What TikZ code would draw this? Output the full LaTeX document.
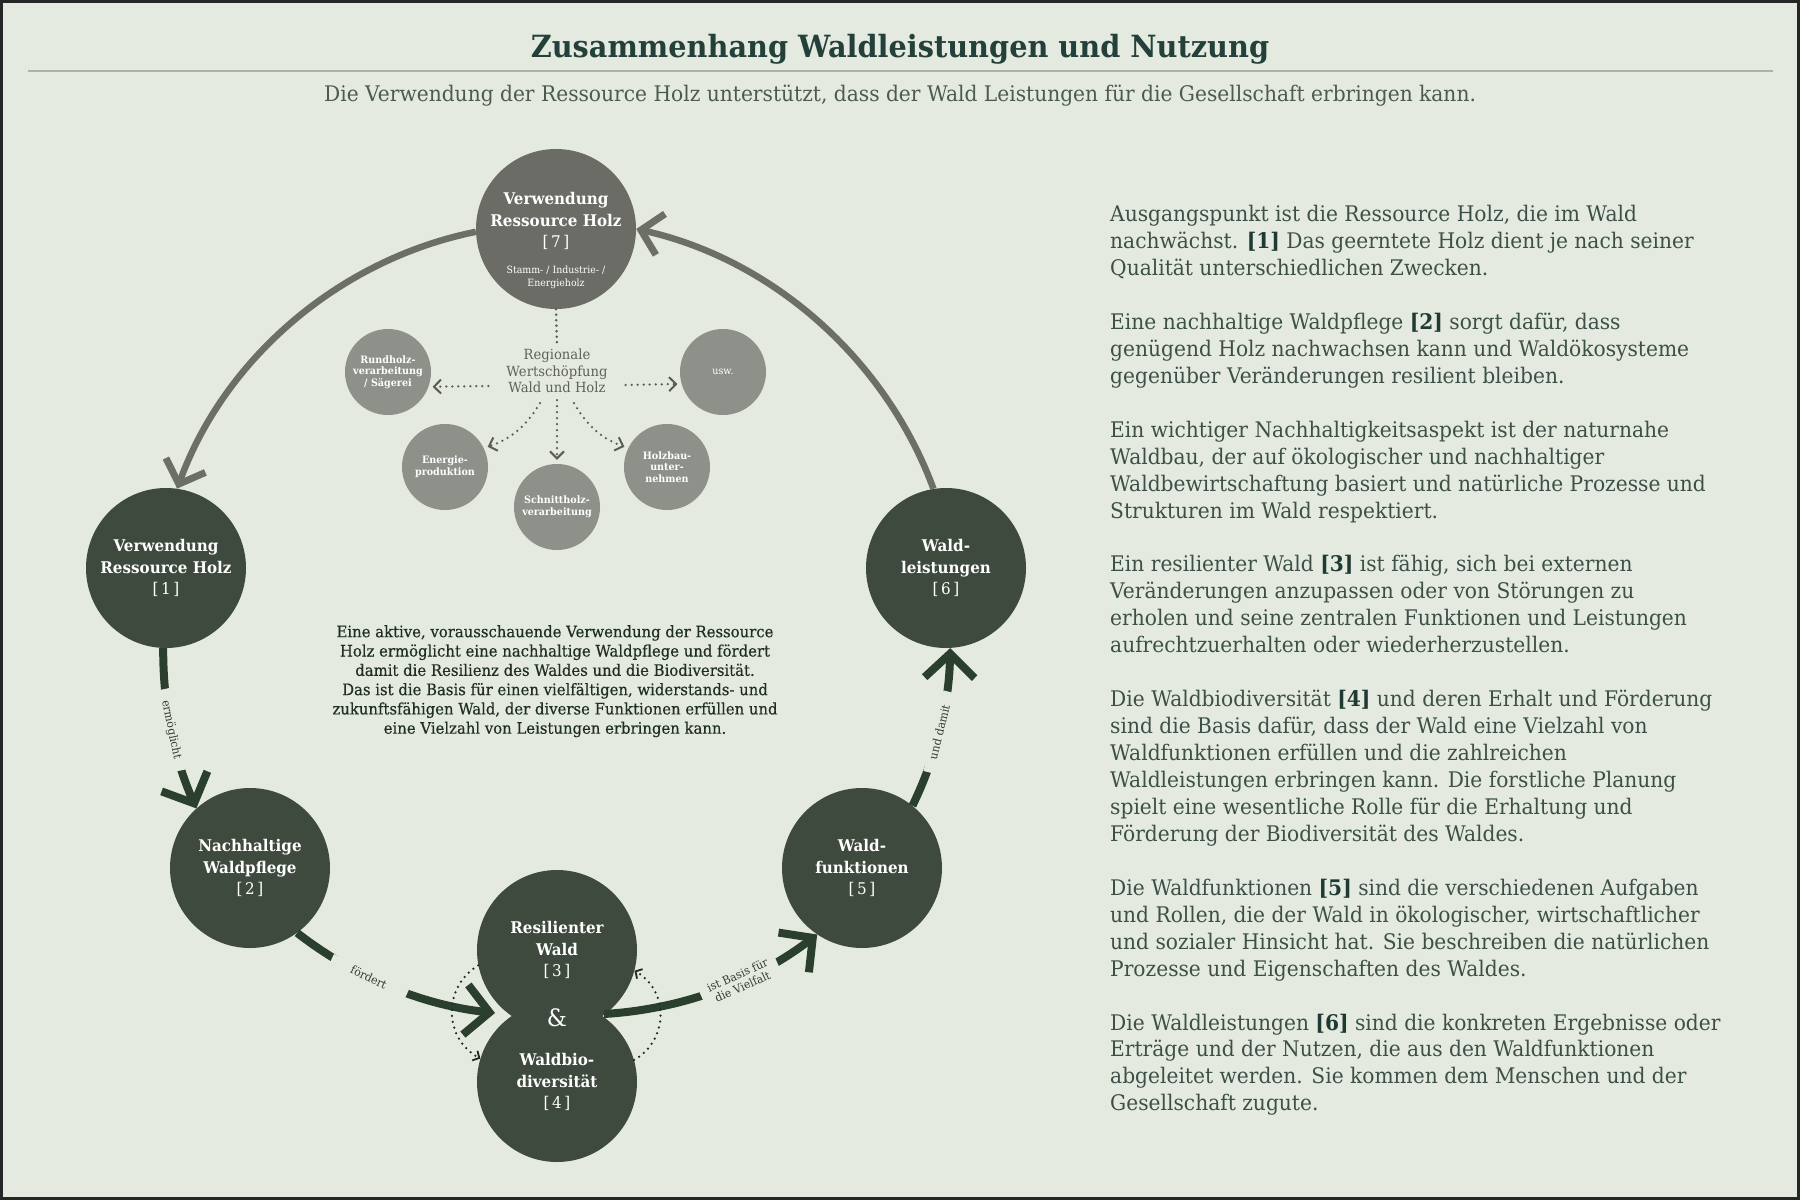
\documentclass[tikz,border=0pt]{standalone}
\usepackage{fontspec}
\setmainfont{DejaVu Serif}[FakeStretch=0.94]
\usetikzlibrary{arrows.meta}
\definecolor{bg}{HTML}{E4EAE0}
\definecolor{darkc}{HTML}{3F4A3E}
\definecolor{topgray}{HTML}{6A6C65}
\definecolor{smallgray}{HTML}{8E908A}
\definecolor{flowgreen}{HTML}{2B3F2F}
\definecolor{arcgray}{HTML}{6C6F68}
\definecolor{dotgray}{HTML}{5A5D56}
\definecolor{titlec}{HTML}{23403A}
\definecolor{bodyc}{HTML}{3D5047}
\definecolor{numc}{HTML}{1E3A32}
\definecolor{subc}{HTML}{4B5A52}
\definecolor{labelc}{HTML}{343A34}
\definecolor{parac}{HTML}{1E2E22}
\definecolor{regc}{HTML}{5E625A}
\definecolor{rulec}{HTML}{A9B5AC}
\definecolor{loopc}{HTML}{1E2A22}
\newcommand\nrb[1]{{\mdseries[\,#1\,]}}
\newcommand\bnum[1]{{\bfseries\color{numc}[#1]}}
\begin{document}
\begin{tikzpicture}[x=1pt,y=-1pt,
  big/.style={circle, minimum size=160pt, inner sep=0pt, fill=darkc, text=white, align=center,
    font=\bfseries\fontsize{16.1}{21.5}\selectfont},
  topc/.style={big, fill=topgray},
  bigtext/.style={text=white, align=center, inner sep=0pt, font=\bfseries\fontsize{16.1}{21.5}\selectfont},
  small/.style={circle, minimum size=86pt, inner sep=0pt, fill=smallgray, text=white, align=center,
    font=\bfseries\fontsize{10.2}{11.7}\selectfont},
  flow/.style={line width=8pt, draw=flowgreen, looseness=0.88,
    -{Straight Barb[length=24pt, width=50pt, line width=8pt]}},
  grayflow/.style={line width=6.5pt, draw=arcgray, looseness=0.9,
    -{Straight Barb[length=20pt, width=42pt, line width=7pt]}},
  lab/.style={sloped, fill=bg, text=labelc, minimum width=83pt, inner sep=1.5pt,
    font=\fontsize{11.5}{12.5}\selectfont},
  dotarr/.style={draw=dotgray, line width=2.5pt, line cap=round, dash pattern=on 0pt off 6pt,
    shorten >=4pt, -{Straight Barb[length=7pt, width=14pt, line width=2pt]}},
  dotline/.style={draw=dotgray, line width=2.8pt, line cap=round, dash pattern=on 0pt off 5.5pt},
  loopdot/.style={draw=loopc, line width=2.5pt, line cap=round, dash pattern=on 0pt off 6pt,
    looseness=1.15, -{Straight Barb[length=5pt, width=11pt, line width=1.8pt]}}
]
\useasboundingbox (0,0) rectangle (1800,1200);
\fill[bg] (0,0) rectangle (1800,1200);
\draw[line width=3pt, draw=black!85] (1.5,1.5) rectangle (1798.5,1198.5);

% header
\node[anchor=base, font=\bfseries\fontsize{30.6}{38}\selectfont, text=titlec] (title) at (900,57)
  {Zusammenhang Waldleistungen und Nutzung};
\draw[draw=rulec, line width=1.5pt] (28,71) -- (1773,71);
\node[anchor=base, font=\fontsize{21.5}{26}\selectfont, text=subc] (subtitle) at (900,101)
  {Die Verwendung der Ressource Holz unterstützt, dass der Wald Leistungen für die Gesellschaft erbringen kann.};

% main circles
\node[topc] (t7) at (556,229) {};
\node[bigtext] (t7a) at (556,221) {Verwendung\\Ressource Holz\\\nrb{7}};
\node[text=white, align=center, inner sep=0pt, font=\fontsize{10}{13}\selectfont] (t7b) at (556,277.5)
  {Stamm- / Industrie- /\\Energieholz};
\node[big] (c1) at (166,568) {Verwendung\\Ressource Holz\\\nrb{1}};
\node[big] (c2) at (250,868) {Nachhaltige\\Waldpflege\\\nrb{2}};
\node[big] (c3) at (557,950) {Resilienter\\Wald\\\nrb{3}};
\node[big] (c4) at (557,1082) {Waldbio-\\diversität\\\nrb{4}};
\node[text=white, font=\fontsize{24}{24}\selectfont] (amp) at (557,1018) {\&};
\node[big] (c5) at (862,868) {Wald-\\funktionen\\\nrb{5}};
\node[big] (c6) at (946,568) {Wald-\\leistungen\\\nrb{6}};
\coordinate (waistL) at (495,1013);
\coordinate (waistR) at (604,1014);

% regional value chain
\node[align=center, text=regc, inner sep=2pt, font=\fontsize{14}{16.5}\selectfont] (reg) at (557,371)
  {Regionale\\Wertschöpfung\\Wald und Holz};
\node[small] (rund) at (388,372) {Rundholz-\\verarbeitung\\/ Sägerei};
\node[small, font=\fontsize{10.2}{11.7}\selectfont] (usw) at (723,372) {usw.};
\node[small] (energ) at (445,467) {Energie-\\produktion};
\node[small] (schnitt) at (557,507) {Schnittholz-\\verarbeitung};
\node[small] (holzbau) at (667,467) {Holzbau-\\unter-\\nehmen};

\draw[dotline] (t7.south) -- (reg.north);
\draw[dotarr] ([shift={(-16,15)}]reg.west) -- (rund.-20);
\draw[dotarr] ([shift={(16,14)}]reg.east) -- (usw.196);
\draw[dotarr] ([shift={(-17,8)}]reg.south) to[bend left=20] (energ.26);
\draw[dotarr] ([shift={(0,5)}]reg.south) -- (schnitt.north);
\draw[dotarr] ([shift={(17,8)}]reg.south) to[bend right=20] (holzbau.154);

% cycle
\draw[grayflow] (c6.99) to[bend right=28.6] (t7.0);
\draw[grayflow] (t7.182) to[bend right=29.3] (c1.82);
\draw[flow] (c1.268) to[bend right=12] node[lab, pos=.5] {ermöglicht} (c2.132);
\draw[flow] (c2.-54) to[bend right=15.75] node[lab, pos=.39] {fördert} (waistL);
\draw[flow] (waistR) to[bend right=17] node[lab, pos=.61, align=center] {ist Basis für\\die Vielfalt} (c5.236);
\draw[flow] (c5.51) to[bend right=12.35] node[lab, pos=.48] {und damit} (c6.273);
\draw[loopdot] (c3.191) to[bend right=60] (c4.163);
\draw[loopdot] (c4.16) to[bend right=60] (c3.-15);

% central text
\node[anchor=north, align=center, text=parac, inner sep=0pt,
  font=\addfontfeatures{FakeBold=0.35}\fontsize{15.8}{19.3}\selectfont] (center) at (555,625)
  {Eine aktive, vorausschauende Verwendung der Ressource\\
   Holz ermöglicht eine nachhaltige Waldpflege und fördert\\
   damit die Resilienz des Waldes und die Biodiversität.\\
   Das ist die Basis für einen vielfältigen, widerstands- und\\
   zukunftsfähigen Wald, der diverse Funktionen erfüllen und\\
   eine Vielzahl von Leistungen erbringen kann.};

% description column
\node[anchor=north west, align=left, text=bodyc, inner sep=0pt, font=\fontsize{21.5}{26.95}\selectfont] (desc) at (1110,205)
  {Ausgangspunkt ist die Ressource Holz, die im Wald\\
   nachwächst. \bnum{1} Das geerntete Holz dient je nach seiner\\
   Qualität unterschiedlichen Zwecken.\\[26.95pt]
   Eine nachhaltige Waldpflege \bnum{2} sorgt dafür, dass\\
   genügend Holz nachwachsen kann und Waldökosysteme\\
   gegenüber Veränderungen resilient bleiben.\\[26.95pt]
   Ein wichtiger Nachhaltigkeitsaspekt ist der naturnahe\\
   Waldbau, der auf ökologischer und nachhaltiger\\
   Waldbewirtschaftung basiert und natürliche Prozesse und\\
   Strukturen im Wald respektiert.\\[26.95pt]
   Ein resilienter Wald \bnum{3} ist fähig, sich bei externen\\
   Veränderungen anzupassen oder von Störungen zu\\
   erholen und seine zentralen Funktionen und Leistungen\\
   aufrechtzuerhalten oder wiederherzustellen.\\[26.95pt]
   Die Waldbiodiversität \bnum{4} und deren Erhalt und Förderung\\
   sind die Basis dafür, dass der Wald eine Vielzahl von\\
   Waldfunktionen erfüllen und die zahlreichen\\
   Waldleistungen erbringen kann. Die forstliche Planung\\
   spielt eine wesentliche Rolle für die Erhaltung und\\
   Förderung der Biodiversität des Waldes.\\[26.95pt]
   Die Waldfunktionen \bnum{5} sind die verschiedenen Aufgaben\\
   und Rollen, die der Wald in ökologischer, wirtschaftlicher\\
   und sozialer Hinsicht hat. Sie beschreiben die natürlichen\\
   Prozesse und Eigenschaften des Waldes.\\[26.95pt]
   Die Waldleistungen \bnum{6} sind die konkreten Ergebnisse oder\\
   Erträge und der Nutzen, die aus den Waldfunktionen\\
   abgeleitet werden. Sie kommen dem Menschen und der\\
   Gesellschaft zugute.};
\end{tikzpicture}
\end{document}
